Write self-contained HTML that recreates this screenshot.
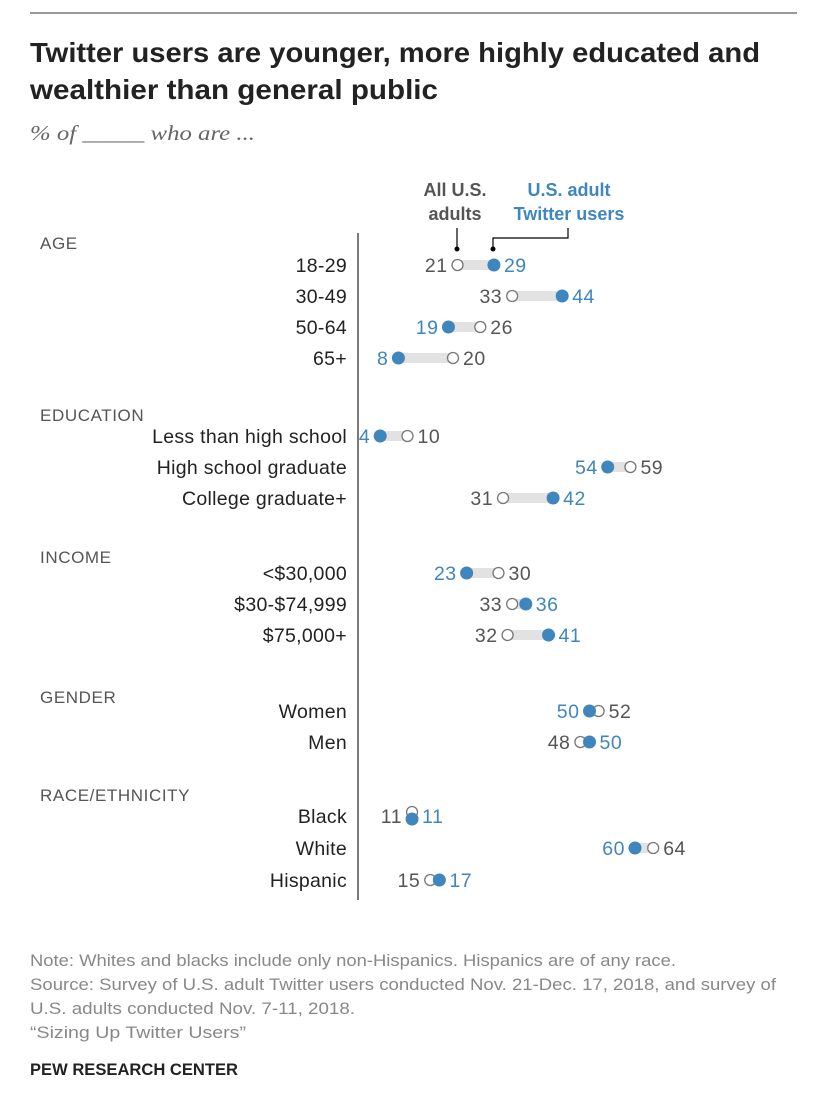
<!DOCTYPE html>
<html><head><meta charset="utf-8"><style>
body{margin:0;background:#fff;width:828px;height:1096px;overflow:hidden;font-family:"Liberation Sans",sans-serif;}
</style></head><body>
<svg width="828" height="1096" xmlns="http://www.w3.org/2000/svg">
<line x1="30" y1="13" x2="797" y2="13" stroke="#333" stroke-width="1"/>
<text x="30" y="62" font-size="28" font-weight="bold" fill="#222" textLength="730" lengthAdjust="spacingAndGlyphs">Twitter users are younger, more highly educated and</text>
<text x="30" y="99" font-size="28" font-weight="bold" fill="#222" textLength="408" lengthAdjust="spacingAndGlyphs">wealthier than general public</text>
<text x="30" y="140" font-size="21" font-style="italic" font-family="Liberation Serif,serif" fill="#666" textLength="225" lengthAdjust="spacingAndGlyphs">% of _____ who are ...</text>
<text x="455" y="196" font-size="18" font-weight="bold" fill="#555" text-anchor="middle"><tspan x="455">All U.S.</tspan><tspan x="455" dy="24">adults</tspan></text>
<text x="569" y="196" font-size="18" font-weight="bold" fill="#3f86bf" text-anchor="middle"><tspan x="569">U.S. adult</tspan><tspan x="569" dy="24">Twitter users</tspan></text>
<path d="M457,228 V249 M568,228 V238 H493 V249" stroke="#000" fill="none" stroke-width="1.2"/>
<circle cx="457" cy="249" r="2.5" fill="#000"/>
<circle cx="493" cy="249" r="2.5" fill="#000"/>
<line x1="358" y1="233" x2="358" y2="900" stroke="#222" stroke-width="1.2"/>
<g id="rows"></g>
<g font-size="17" fill="#888">
<text x="30" y="966" textLength="646" lengthAdjust="spacingAndGlyphs">Note: Whites and blacks include only non-Hispanics. Hispanics are of any race.</text>
<text x="30" y="990" textLength="746" lengthAdjust="spacingAndGlyphs">Source: Survey of U.S. adult Twitter users conducted Nov. 21-Dec. 17, 2018, and survey of</text>
<text x="30" y="1014" textLength="325" lengthAdjust="spacingAndGlyphs">U.S. adults conducted Nov. 7-11, 2018.</text>
<text x="30" y="1038" textLength="216" lengthAdjust="spacingAndGlyphs">“Sizing Up Twitter Users”</text>
</g>
<text x="30" y="1075" font-size="17" font-weight="bold" fill="#222" textLength="208" lengthAdjust="spacingAndGlyphs">PEW RESEARCH CENTER</text>
</svg>
<script>
const sections=["AGE","EDUCATION","INCOME","GENDER","RACE/ETHNICITY"];
const sectionY=[243,415,557,697,795];
const categories=["18-29","30-49","50-64","65+","Less than high school","High school graduate","College graduate+","<$30,000","$30-$74,999","$75,000+","Women","Men","Black","White","Hispanic"];
const rowY=[265,296,327,358,436,467,498,573,604,635,711,742,816,848,880];
const allAdults=[21,33,26,20,10,59,31,30,33,32,52,48,11,64,15];
const twitterUsers=[29,44,19,8,4,54,42,23,36,41,50,50,11,60,17];
const NS="http://www.w3.org/2000/svg";
const g=document.getElementById('rows');
const xs=v=>362+v*4.55;
function mk(t,a){const e=document.createElementNS(NS,t);for(const k in a)e.setAttribute(k,a[k]);g.appendChild(e);return e;}
sections.forEach((s,i)=>{const t=mk('text',{x:40,y:sectionY[i]+6,'font-size':17,fill:'#555','letter-spacing':'0.6'});t.textContent=s;

});
categories.forEach((c,i)=>{
 const y=rowY[i],a=allAdults[i],w=twitterUsers[i],xa=xs(a),xw=xs(w);
 const lab=mk('text',{x:347,y:y+7,'font-size':19.5,fill:'#222','text-anchor':'end','letter-spacing':'0.3'});lab.textContent=c;
 
 
 const bar=mk('rect',{x:Math.min(xa,xw),y:y-5,width:Math.abs(xa-xw),height:10,fill:'#e2e2e2'});
 
 
 let ya=y,yw=y;if(a===w){ya=y-4;yw=y+3;}
 const ca=mk('circle',{cx:xa,cy:ya,r:5.5,fill:'#fff',stroke:'#777','stroke-width':1.3});
 
 
 const cw=mk('circle',{cx:xw,cy:yw,r:6.5,fill:'#3f86bf'});
 
 
 const leftIsAll = a<=w;
 const lo=Math.min(xa,xw),hi=Math.max(xa,xw);
 const lt=mk('text',{x:lo-10,y:y+7,'font-size':19.5,'text-anchor':'end',fill:leftIsAll?'#555':'#3f86bf','letter-spacing':'0.5'});lt.textContent=leftIsAll?a:w;
 
 
 const rt=mk('text',{x:hi+10,y:y+7,'font-size':19.5,fill:leftIsAll?'#3f86bf':'#555','letter-spacing':'0.5'});rt.textContent=leftIsAll?w:a;
 
 
});
</script>
</body></html>
